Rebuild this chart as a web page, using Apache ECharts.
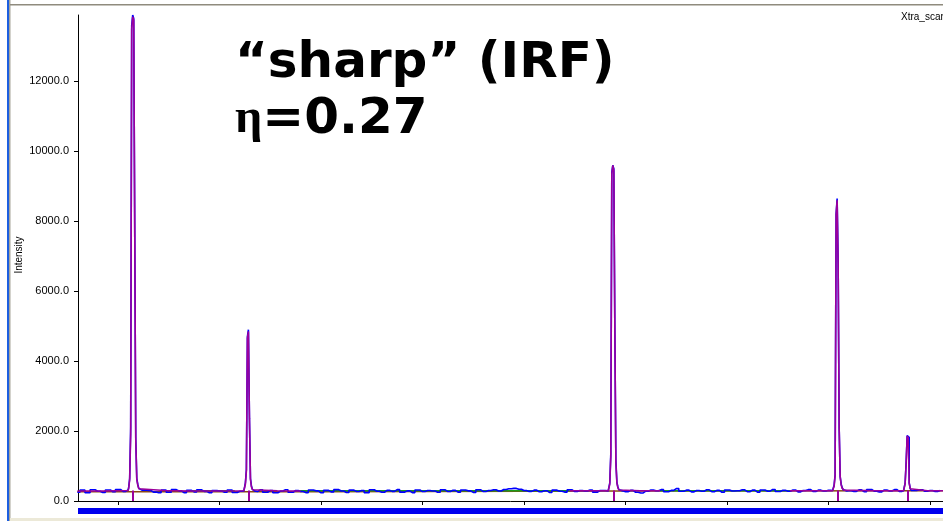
<!DOCTYPE html>
<html><head><meta charset="utf-8">
<script src="https://cdn.jsdelivr.net/npm/echarts@6/dist/echarts.min.js"></script>
<style>html,body{margin:0;padding:0;background:#fff;overflow:hidden}#c{width:943px;height:521px}</style>
</head><body><div id="c"></div>
<script>
// ---- data (2theta in degrees, intensity in counts) ----
const xTicks = [20, 30, 40, 50, 60, 70, 80, 90, 100];
const yTicks = [0, 2000, 4000, 6000, 8000, 10000, 12000];
const obsStart = 16.0, obsStep = 0.5;
const obsBase = [
  250,310,235,320,280,245,315,265,330,275,
  300,320,265,315,300,255,240,310,250,325,
  290,240,305,260,320,275,235,300,285,250,
  315,245,280,330,290,270,320,250,300,235,
  285,320,250,300,270,240,315,290,235,305,
  260,325,285,245,310,270,300,240,320,280,
  250,305,275,325,255,290,240,315,270,300,
  285,250,320,270,305,255,315,290,245,320,
  270,300,320,285,330,350,360,335,300,275,
  310,265,295,245,310,280,255,320,270,300,
  285,315,255,300,300,285,290,320,265,305,
  250,230,280,315,295,325,265,305,355,280,
  310,260,300,280,320,265,305,250,315,285,
  295,320,265,310,255,315,280,330,270,305,
  280,315,260,300,325,270,310,285,305,290,
  300,285,295,275,320,265,330,280,260,315,
  285,325,270,310,265,305,320,280,300,275,
  300
];
const obsPeak1 = [[21.0,320],[21.1,380],[21.2,650],[21.3,2100],[21.4,13600],[21.5,13900],[21.6,13800],[21.7,7700],[21.8,1800],[21.9,650],[22.0,480],[22.1,360],[22.2,310]];
const obsPeak2 = [[32.4,290],[32.5,320],[32.6,520],[32.7,900],[32.8,4700],[32.9,4900],[33.0,2370],[33.1,650],[33.2,420],[33.3,330],[33.4,290]];
const obsPeak3 = [[68.3,290],[68.4,330],[68.5,520],[68.6,1340],[68.7,9400],[68.8,9600],[68.9,9500],[69.0,4900],[69.1,1170],[69.2,540],[69.3,400],[69.4,320],[69.5,290]];
const obsPeak4 = [[90.4,300],[90.5,340],[90.6,450],[90.7,750],[90.8,8200],[90.9,8650],[91.0,6800],[91.1,2100],[91.2,700],[91.3,480],[91.4,380],[91.5,320],[91.6,290]];
const obsPeak5 = [[97.4,300],[97.5,330],[97.6,520],[97.7,1120],[97.8,1870],[97.9,1820],[98.0,520],[98.1,360],[98.2,300]];

const calcPeak1 = [[21.0,300],[21.1,360],[21.2,600],[21.3,1900],[21.4,13500],[21.5,13850],[21.6,13750],[21.7,7700],[21.8,1750],[21.9,620],[22.0,450],[22.1,350],[22.2,300]];
const calcPeak2 = [[32.4,292],[32.5,310],[32.6,480],[32.7,860],[32.8,4650],[32.9,4850],[33.0,2370],[33.1,620],[33.2,400],[33.3,320],[33.4,292]];
const calcPeak3 = [[68.3,292],[68.4,320],[68.5,480],[68.6,1250],[68.7,9350],[68.8,9600],[68.9,9450],[69.0,4900],[69.1,1100],[69.2,520],[69.3,380],[69.4,315],[69.5,295]];
const calcPeak4 = [[90.4,295],[90.5,320],[90.6,420],[90.7,720],[90.8,8200],[90.9,8600],[91.0,6770],[91.1,2090],[91.2,690],[91.3,460],[91.4,360],[91.5,310],[91.6,295]];
const calcPeak5 = [[97.4,295],[97.5,320],[97.6,500],[97.7,1100],[97.8,1860],[97.9,1800],[98.0,510],[98.1,350],[98.2,295]];
const calcSeg1 = [[16.0,285],[21.0,300]].concat(calcPeak1, [[27.0,288],[32.4,292]], calcPeak2, [[38.0,288]]);
const calcSeg2 = [[64.5,292]].concat(calcPeak3, [[73.4,292]]);
const calcSeg3 = [[86.2,292]].concat(calcPeak4, calcPeak5, [[101.3,292]]);

const background = [[16.0,262],[40.0,268],[70.0,285],[101.3,292]];
const greenSegs = [
  [[27.1,290],[31.5,290]],
  [[37.9,290],[64.5,292]],
  [[73.4,294],[86.2,293]]
];
const reflections = [21.5, 32.85, 68.8, 90.9, 97.82];
const reflTop = 300;

// ---- build ----
const peakWins = [obsPeak1, obsPeak2, obsPeak3, obsPeak4, obsPeak5];
let obs = obsBase.map((v, i) => [obsStart + i * obsStep, v])
  .filter(p => !peakWins.some(pk => p[0] >= pk[0][0] && p[0] <= pk[pk.length - 1][0]));
peakWins.forEach(pk => { obs = obs.concat(pk); });
obs.sort((a, b) => a[0] - b[0]);

const PURPLE = '#9b009b', BLUE = '#0000ff', GREEN = '#1a9a1a', BROWN = '#8b4a14';
const series = [];
series.push({type:'line', data: background, symbol:'none', lineStyle:{color:BROWN, width:1.5}, silent:true, z:2});
greenSegs.forEach(s => series.push({type:'line', data:s, symbol:'none', lineStyle:{color:GREEN, width:1.5}, silent:true, z:3}));
series.push({type:'line', data: obs, step:'middle', symbol:'none', lineStyle:{color:BLUE, width:1.6}, silent:true, z:4});
[calcSeg1, calcSeg2, calcSeg3].forEach((s, k) => series.push({
  type:'line', data:s, step:'middle', symbol:'none', lineStyle:{color:PURPLE, width:1.6}, silent:true, z:5,
  markLine: k === 0 ? {
    silent:true, symbol:['none','none'], label:{show:false},
    lineStyle:{color:PURPLE, width:2, type:'solid'},
    data: reflections.map(x => [{coord:[x,0]},{coord:[x,reflTop]}])
  } : undefined
}));

const chart = echarts.init(document.getElementById('c'), null, {renderer:'canvas'});
chart.setOption({
  animation:false,
  backgroundColor:'#ffffff',
  grid:{left:78, right:0, top:15, bottom:20},
  xAxis:{
    type:'value', min:16.06, max:101.28,
    axisLine:{show:true, lineStyle:{color:'#000', width:1}},
    axisTick:{show:true, length:4, lineStyle:{color:'#000'}, customValues:xTicks},
    axisLabel:{show:false},
    splitLine:{show:false}
  },
  yAxis:{
    type:'value', min:0, max:13900,
    axisLine:{show:true, lineStyle:{color:'#000', width:1}},
    axisTick:{show:true, length:4, lineStyle:{color:'#000'}, customValues:yTicks},
    axisLabel:{show:true, customValues:yTicks, margin:9, color:'#000', fontFamily:'Liberation Sans', fontSize:11,
      formatter: v => Number(v).toFixed(1)},
    splitLine:{show:false}
  },
  graphic:[
    {type:'rect', shape:{x:7, y:0, width:2, height:521}, style:{fill:'#1c5fe0'}, silent:true},
    {type:'rect', shape:{x:9, y:0, width:1.5, height:521}, style:{fill:'#a8a59a'}, silent:true},
    {type:'rect', shape:{x:10, y:4, width:933, height:1.6}, style:{fill:'#8f8b7e'}, silent:true},
    {type:'rect', shape:{x:10, y:518, width:933, height:3}, style:{fill:'#ece9d8'}, silent:true},
    {type:'rect', shape:{x:78, y:508, width:865, height:6}, style:{fill:'#0000ee'}, silent:true},
    {type:'text', x:19, y:255, rotation:Math.PI/2, silent:true,
      style:{text:'Intensity', font:'10px "Liberation Sans"', fill:'#000', align:'center', verticalAlign:'middle'}},
    {type:'text', x:901, y:17, silent:true,
      style:{text:'Xtra_scan', font:'10px "Liberation Sans"', fill:'#000', align:'left', verticalAlign:'middle'}},
    {type:'text', x:235, y:64, silent:true,
      style:{text:'\u201Csharp\u201D (IRF)', font:'bold 50px "DejaVu Sans"', fill:'#000', align:'left', verticalAlign:'middle'}},
    {type:'text', x:235, y:120, silent:true,
      style:{text:'{e|\u03B7}{b|=0.27}', fill:'#000', align:'left', verticalAlign:'middle',
        rich:{e:{font:'bold 48px "Liberation Serif"', fill:'#000'}, b:{font:'bold 50px "DejaVu Sans"', fill:'#000'}}}}
  ],
  series: series
});
</script></body></html>
